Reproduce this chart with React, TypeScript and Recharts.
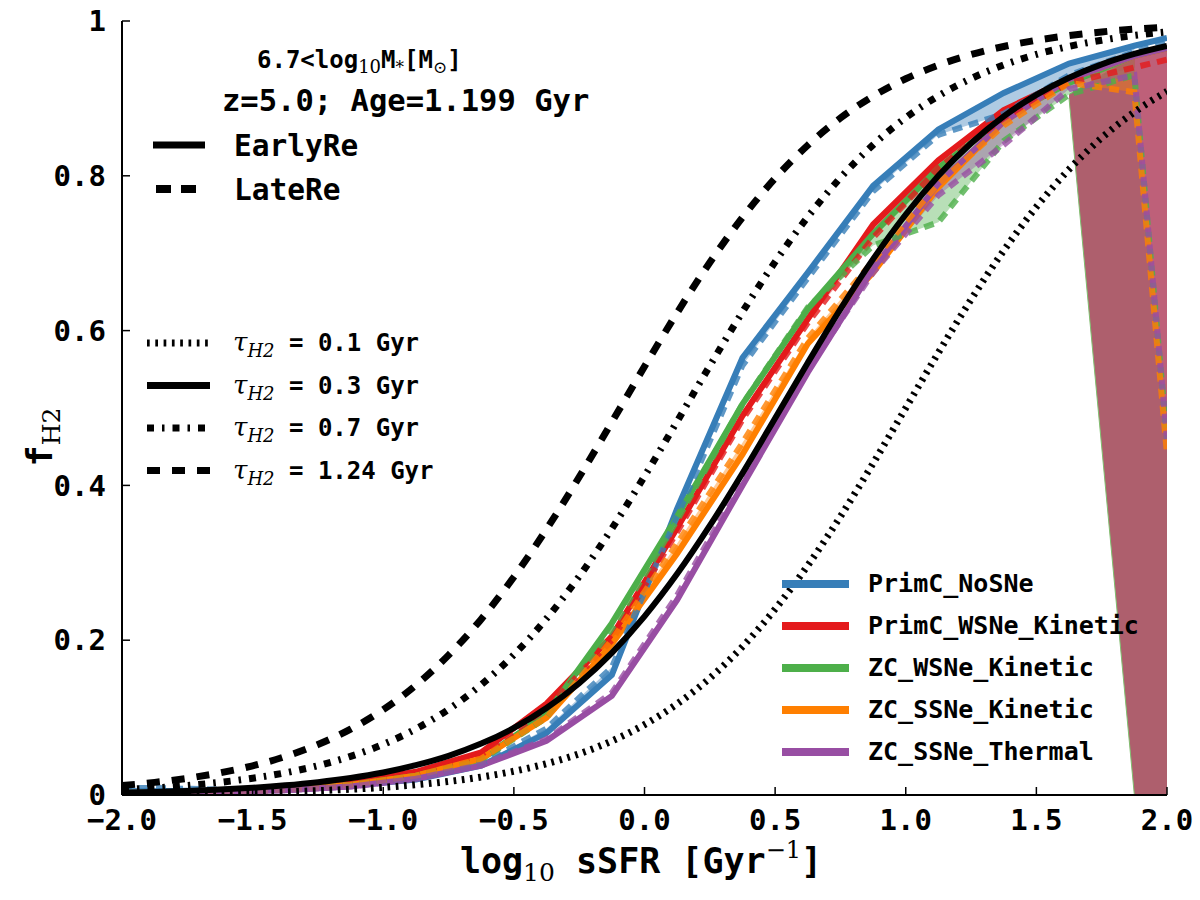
import { Area, ComposedChart, Line, XAxis, YAxis } from "recharts";

// model curves, sampled every 0.125 dex in sSFR
const MODEL_X = [
  -2, -1.875, -1.75, -1.625, -1.5, -1.375, -1.25, -1.125, -1, -0.875, -0.75,
  -0.625, -0.5, -0.375, -0.25, -0.125, 0, 0.125, 0.25, 0.375, 0.5, 0.625, 0.75,
  0.875, 1, 1.125, 1.25, 1.375, 1.5, 1.625, 1.75, 1.875, 2,
];
const TAU_01 = [
  0.001, 0.0013, 0.0018, 0.0024, 0.0032, 0.0042, 0.0056, 0.0074, 0.0099, 0.0132,
  0.0175, 0.0232, 0.0307, 0.0405, 0.0532, 0.0698, 0.0909, 0.1177, 0.151, 0.1917,
  0.2402, 0.2966, 0.3599, 0.4285, 0.5, 0.5715, 0.6401, 0.7034, 0.7598, 0.8083,
  0.849, 0.8823, 0.9091,
];
const TAU_03 = [
  0.003, 0.004, 0.0053, 0.0071, 0.0094, 0.0125, 0.0166, 0.022, 0.0291, 0.0385,
  0.0506, 0.0664, 0.0866, 0.1123, 0.1444, 0.1837, 0.2308, 0.2857, 0.3479, 0.4157,
  0.4868, 0.5585, 0.6278, 0.6923, 0.75, 0.8, 0.8421, 0.8768, 0.9046, 0.9267,
  0.944, 0.9574, 0.9677,
];
const TAU_07 = [
  0.007, 0.0092, 0.0123, 0.0163, 0.0217, 0.0287, 0.0379, 0.0499, 0.0654, 0.0854,
  0.1107, 0.1424, 0.1812, 0.2279, 0.2825, 0.3442, 0.4118, 0.4828, 0.5545, 0.6241,
  0.6888, 0.747, 0.7974, 0.84, 0.875, 0.9032, 0.9256, 0.9432, 0.9568, 0.9672,
  0.9752, 0.9813, 0.9859,
];
const TAU_124 = [
  0.0122, 0.0163, 0.0216, 0.0286, 0.0377, 0.0497, 0.0652, 0.0851, 0.1103, 0.1419,
  0.1807, 0.2272, 0.2817, 0.3434, 0.4108, 0.4818, 0.5536, 0.6231, 0.688, 0.7462,
  0.7968, 0.8395, 0.8746, 0.9029, 0.9254, 0.943, 0.9566, 0.9671, 0.9751, 0.9812,
  0.9859, 0.9894, 0.992,
];

// simulation bins (centres), plus the two frame edges
const BIN_X = [
  -2, -1.875, -1.625, -1.375, -1.125, -0.875, -0.625, -0.375, -0.125, 0.125,
  0.375, 0.625, 0.875, 1.125, 1.375, 1.625, 1.875, 2,
];
const BLUE_EARLY = [0.005, 0.005, 0.006, 0.008, 0.012, 0.02, 0.038, 0.08, 0.155, 0.37, 0.565, 0.675, 0.787, 0.86, 0.907, 0.945, 0.968, 0.978];
const BLUE_LATE = [0.009, 0.009, 0.007, 0.008, 0.012, 0.021, 0.04, 0.086, 0.165, 0.36, 0.555, 0.668, 0.78, 0.853, 0.88, 0.93, 0.96, 0.972];
const RED_EARLY = [0.003, 0.003, 0.005, 0.009, 0.016, 0.03, 0.055, 0.118, 0.205, 0.345, 0.49, 0.615, 0.737, 0.82, 0.885, 0.925, 0.955, 0.965];
const RED_LATE = [0.003, 0.003, 0.005, 0.009, 0.015, 0.029, 0.052, 0.112, 0.2, 0.34, 0.485, 0.61, 0.72, 0.81, 0.875, 0.92, 0.94, 0.95];
const GREEN_EARLY = [0.003, 0.003, 0.004, 0.007, 0.013, 0.025, 0.046, 0.105, 0.222, 0.36, 0.505, 0.628, 0.725, 0.81, 0.875, 0.92, 0.955, 0.965];
const GREEN_LATE = [0.003, 0.003, 0.004, 0.007, 0.013, 0.025, 0.045, 0.1, 0.215, 0.355, 0.505, 0.63, 0.71, 0.74, 0.845, 0.905, 0.93, 0.46];
const ORANGE_EARLY = [0.002, 0.002, 0.004, 0.007, 0.013, 0.025, 0.047, 0.1, 0.195, 0.312, 0.44, 0.583, 0.675, 0.785, 0.87, 0.925, 0.955, 0.965];
const ORANGE_LATE = [0.002, 0.002, 0.004, 0.007, 0.013, 0.025, 0.047, 0.1, 0.2, 0.325, 0.455, 0.59, 0.69, 0.79, 0.865, 0.92, 0.908, 0.44];
const PURPLE_EARLY = [0.002, 0.002, 0.004, 0.006, 0.011, 0.021, 0.038, 0.07, 0.128, 0.252, 0.4, 0.546, 0.68, 0.79, 0.87, 0.925, 0.955, 0.965];
const PURPLE_LATE = [0.002, 0.002, 0.004, 0.006, 0.011, 0.021, 0.039, 0.072, 0.132, 0.258, 0.405, 0.55, 0.675, 0.775, 0.84, 0.912, 0.93, 0.46];

// wide scatter band at the high-sSFR end
const SPREAD_X = [1.625, 1.875, 2];
const SPREAD_LOW = [0.9, 0, 0];
const SPREAD_HIGH = [0.905, 0.955, 0.967];

// where the LateRe runs collapse in the last bin
const DROP_X = [1.875, 2];
const DROP_LOW = [0.93, 0.45];
const DROP_HIGH = [0.955, 0.966];

const X_TICKS = [-2, -1.5, -1, -0.5, 0, 0.5, 1, 1.5, 2];
const Y_TICKS = [0, 0.2, 0.4, 0.6, 0.8, 1];

const SIMS = [
  { name: "PrimC_NoSNe", color: "#377eb8", early: BLUE_EARLY, late: BLUE_LATE },
  { name: "PrimC_WSNe_Kinetic", color: "#e41a1c", early: RED_EARLY, late: RED_LATE },
  { name: "ZC_WSNe_Kinetic", color: "#4daf4a", early: GREEN_EARLY, late: GREEN_LATE },
  { name: "ZC_SSNe_Kinetic", color: "#ff7f00", early: ORANGE_EARLY, late: ORANGE_LATE },
  { name: "ZC_SSNe_Thermal", color: "#984ea3", early: PURPLE_EARLY, late: PURPLE_LATE },
];

const modelRows = MODEL_X.map((x, i) => ({
  x,
  t01: TAU_01[i],
  t03: TAU_03[i],
  t07: TAU_07[i],
  t124: TAU_124[i],
}));

const simRows = SIMS.map((s) =>
  BIN_X.map((x, i) => ({
    x,
    early: s.early[i],
    late: s.late[i],
    band: [Math.min(s.early[i], s.late[i]), Math.max(s.early[i], s.late[i])],
  }))
);

const spreadRows = SPREAD_X.map((x, i) => ({ x, band: [SPREAD_LOW[i], SPREAD_HIGH[i]] }));
const dropRows = DROP_X.map((x, i) => ({ x, band: [DROP_LOW[i], DROP_HIGH[i]] }));

const MONO = "'DejaVu Sans Mono', monospace";
const SERIF = "'DejaVu Serif', 'Liberation Serif', serif";

const fmtX = (v: number) => v.toFixed(1).replace("-", "\u2212");
const fmtY = (v: number) => (v === 0 ? "0" : v === 1 ? "1" : v.toFixed(1));

const tickStyle = { fontFamily: MONO, fontWeight: 700, fontSize: 29, fill: "#000" };

const TAU_LEGEND = [
  { label: "0.1", dash: "2.7 5.6" },
  { label: "0.3", dash: undefined },
  { label: "0.7", dash: "7 8 2.5 8" },
  { label: "1.24", dash: "13 12" },
];

function Overlay() {
  return (
    <svg
      width={1200}
      height={900}
      style={{ position: "absolute", left: 0, top: 0, pointerEvents: "none" }}
    >
      <text x={257} y={68} fontFamily={MONO} fontWeight={700} fontSize={24}>
        6.7&lt;log
        <tspan fontFamily={SERIF} fontWeight={400} fontSize={18} dy={5}>10</tspan>
        <tspan dy={-5}>M</tspan>
        <tspan fontFamily={SERIF} fontWeight={400} fontSize={17} dy={5}>*</tspan>
        <tspan dy={-5}>[M</tspan>
        <tspan fontFamily={SERIF} fontWeight={400} fontSize={17} dy={5}>{"\u2299"}</tspan>
        <tspan dy={-5}>]</tspan>
      </text>
      <text x={222} y={111} fontFamily={MONO} fontWeight={700} fontSize={30.5}>
        z=5.0; Age=1.199 Gyr
      </text>
      <line x1={153} x2={205} y1={145} y2={145} stroke="#000" strokeWidth={7} />
      <text x={234} y={156} fontFamily={MONO} fontWeight={700} fontSize={29.5}>EarlyRe</text>
      <line x1={156} x2={205} y1={189} y2={189} stroke="#000" strokeWidth={8} strokeDasharray="15 10" />
      <text x={234} y={200} fontFamily={MONO} fontWeight={700} fontSize={29.5}>LateRe</text>

      {TAU_LEGEND.map((t, i) => {
        const cy = 343 + i * 42.5;
        return (
          <g key={t.label}>
            <line x1={147} x2={210} y1={cy} y2={cy} stroke="#000" strokeWidth={7} strokeDasharray={t.dash} />
            <text x={233} y={cy + 8} fontSize={26}>
              <tspan fontFamily={SERIF} fontStyle="italic">{"\u03c4"}</tspan>
              <tspan fontFamily={SERIF} fontStyle="italic" fontSize={18} dy={6}>H2</tspan>
              <tspan fontFamily={MONO} fontWeight={700} fontSize={24} dy={-6}>{` = ${t.label} Gyr`}</tspan>
            </text>
          </g>
        );
      })}

      {SIMS.map((s, i) => {
        const cy = 584 + i * 42;
        return (
          <g key={s.name}>
            <line x1={782} x2={849} y1={cy} y2={cy} stroke={s.color} strokeWidth={8} />
            <text x={868} y={cy + 8} fontFamily={MONO} fontWeight={700} fontSize={25}>{s.name}</text>
          </g>
        );
      })}

      <text x={641} y={873} textAnchor="middle" fontFamily={MONO} fontWeight={700} fontSize={35}>
        log
        <tspan fontFamily={SERIF} fontWeight={400} fontSize={25} dy={8}>10</tspan>
        <tspan dy={-8}> sSFR [Gyr</tspan>
        <tspan fontFamily={SERIF} fontWeight={400} fontSize={24} dy={-15}>{"\u22121"}</tspan>
        <tspan dy={15}>]</tspan>
      </text>
      <text
        transform="translate(52,437) rotate(-90)"
        textAnchor="middle"
        fontFamily={MONO}
        fontWeight={700}
        fontSize={35}
      >
        f
        <tspan fontFamily={SERIF} fontWeight={400} fontSize={25} dy={8}>H2</tspan>
      </text>
    </svg>
  );
}

export default function App() {
  return (
    <div style={{ position: "absolute", left: 0, top: 0, width: 1200, height: 900, background: "#fff" }}>
      <ComposedChart width={1200} height={900} margin={{ top: 21, right: 33, bottom: 45, left: 0 }}>
        <XAxis
          type="number"
          dataKey="x"
          domain={[-2, 2]}
          ticks={X_TICKS}
          interval={0}
          allowDataOverflow
          height={60}
          tickSize={-8}
          tickMargin={22}
          tickFormatter={fmtX}
          tick={tickStyle}
          axisLine={{ stroke: "#000", strokeWidth: 2 }}
          tickLine={{ stroke: "#000", strokeWidth: 1.5 }}
        />
        <XAxis
          xAxisId="top"
          orientation="top"
          type="number"
          dataKey="x"
          domain={[-2, 2]}
          ticks={X_TICKS}
          interval={0}
          allowDataOverflow
          height={0}
          tickSize={-8}
          tick={false}
          axisLine={{ stroke: "#000", strokeWidth: 2 }}
          tickLine={{ stroke: "#000", strokeWidth: 1.5 }}
        />
        <YAxis
          type="number"
          domain={[0, 1]}
          ticks={Y_TICKS}
          interval={0}
          allowDataOverflow
          width={122}
          tickSize={-8}
          tickMargin={24}
          tickFormatter={fmtY}
          tick={tickStyle}
          axisLine={{ stroke: "#000", strokeWidth: 2 }}
          tickLine={{ stroke: "#000", strokeWidth: 1.5 }}
        />
        <YAxis
          yAxisId="right"
          orientation="right"
          type="number"
          domain={[0, 1]}
          ticks={Y_TICKS}
          interval={0}
          allowDataOverflow
          width={0}
          tickSize={-8}
          tick={false}
          axisLine={{ stroke: "#000", strokeWidth: 2 }}
          tickLine={{ stroke: "#000", strokeWidth: 1.5 }}
        />

        <Area
          data={spreadRows}
          dataKey="band"
          type="linear"
          fill="#ae5f6d"
          fillOpacity={1}
          stroke="#7fbf6f"
          strokeWidth={1}
          isAnimationActive={false}
        />
        <Area
          data={dropRows}
          dataKey="band"
          type="linear"
          fill="#c0607a"
          fillOpacity={0.9}
          stroke="none"
          isAnimationActive={false}
        />
        {SIMS.map((s, i) => (
          <Area
            key={`band-${s.name}`}
            data={simRows[i].slice(0, -1)}
            dataKey="band"
            type="linear"
            fill={s.color}
            fillOpacity={0.4}
            stroke="none"
            isAnimationActive={false}
          />
        ))}
        {SIMS.map((s, i) => (
          <Line
            key={`early-${s.name}`}
            data={simRows[i]}
            dataKey="early"
            type="linear"
            stroke={s.color}
            strokeWidth={6}
            dot={false}
            isAnimationActive={false}
          />
        ))}
        {SIMS.map((s, i) => (
          <Line
            key={`late-${s.name}`}
            data={simRows[i]}
            dataKey="late"
            type="linear"
            stroke={s.color}
            strokeOpacity={0.8}
            strokeWidth={6}
            strokeDasharray="10 7"
            dot={false}
            isAnimationActive={false}
          />
        ))}

        <Line
          data={modelRows}
          dataKey="t01"
          xAxisId="top"
          yAxisId="right"
          type="monotone"
          stroke="#000"
          strokeWidth={7}
          strokeDasharray="2.7 5.6"
          dot={false}
          isAnimationActive={false}
        />
        <Line
          data={modelRows}
          dataKey="t07"
          type="monotone"
          stroke="#000"
          strokeWidth={7}
          strokeDasharray="7 8 2.5 8"
          dot={false}
          isAnimationActive={false}
        />
        <Line
          data={modelRows}
          dataKey="t124"
          type="monotone"
          stroke="#000"
          strokeWidth={7}
          strokeDasharray="13 12"
          dot={false}
          isAnimationActive={false}
        />
        <Line
          data={modelRows}
          dataKey="t03"
          type="monotone"
          stroke="#000"
          strokeWidth={6}
          dot={false}
          isAnimationActive={false}
        />
      </ComposedChart>
      <Overlay />
    </div>
  );
}
